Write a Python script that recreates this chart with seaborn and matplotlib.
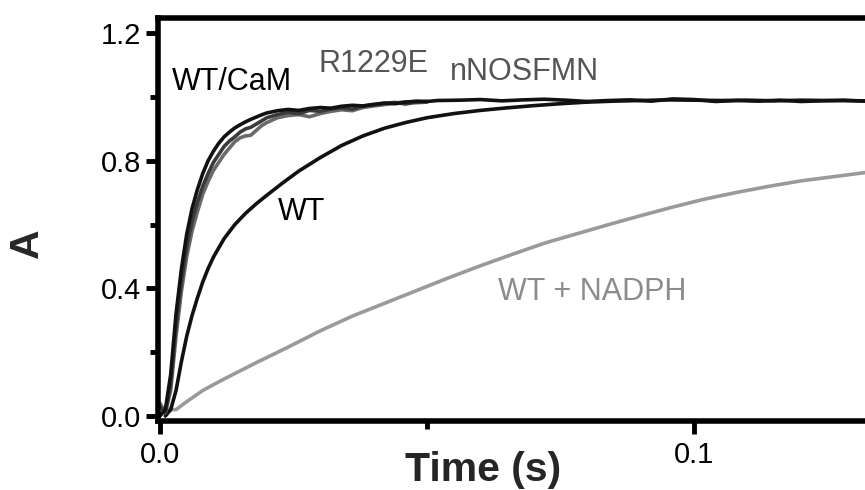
import pandas as pd
import numpy as np
import matplotlib
matplotlib.use("Agg")
import matplotlib.pyplot as plt
import seaborn as sns

# ---- data (time in s, absorbance change A) ----
t_rise = [0.000, 0.001, 0.002, 0.003, 0.004, 0.005, 0.006, 0.007, 0.008, 0.009,
          0.010, 0.011, 0.012, 0.013, 0.014, 0.015, 0.016, 0.017, 0.018, 0.019,
          0.020, 0.022, 0.024, 0.026, 0.028, 0.030, 0.032, 0.034, 0.036, 0.038,
          0.040, 0.042, 0.044, 0.046, 0.048, 0.050]
t_tail = [0.052, 0.056, 0.060, 0.064, 0.068, 0.072, 0.076, 0.080, 0.084, 0.088,
          0.092, 0.096, 0.100, 0.104, 0.108, 0.112, 0.116, 0.120, 0.124, 0.128, 0.132]

cam_rise = [0.00, 0.02, 0.13, 0.32, 0.46, 0.57, 0.65, 0.71, 0.76, 0.80,
            0.83, 0.855, 0.875, 0.89, 0.903, 0.913, 0.922, 0.93, 0.937, 0.944,
            0.95, 0.957, 0.961, 0.958, 0.964, 0.967, 0.965, 0.971, 0.974, 0.972,
            0.977, 0.981, 0.979, 0.984, 0.987, 0.986]
cam_tail = [0.989, 0.990, 0.992, 0.988, 0.991, 0.993, 0.990, 0.986, 0.989, 0.991,
            0.987, 0.994, 0.992, 0.986, 0.989, 0.987, 0.990, 0.986, 0.988, 0.990, 0.987]

r1229e = [0.03, 0.01, 0.10, 0.28, 0.42, 0.53, 0.61, 0.67, 0.72, 0.76,
          0.795, 0.82, 0.845, 0.862, 0.875, 0.89, 0.90, 0.905, 0.915, 0.925,
          0.935, 0.945, 0.952, 0.948, 0.958, 0.955, 0.962, 0.966, 0.962, 0.972,
          0.975, 0.980, 0.983, 0.978, 0.984, 0.986]

fmn = [0.04, 0.01, 0.08, 0.25, 0.39, 0.50, 0.58, 0.64, 0.695, 0.735,
       0.77, 0.795, 0.82, 0.84, 0.86, 0.872, 0.878, 0.88, 0.895, 0.91,
       0.92, 0.935, 0.942, 0.945, 0.938, 0.948, 0.955, 0.960, 0.957, 0.967,
       0.972, 0.976, 0.981, 0.985, 0.982, 0.984]

t_wt = [0.001, 0.002, 0.003, 0.004, 0.005, 0.006, 0.007, 0.008, 0.009, 0.010,
        0.012, 0.014, 0.016, 0.018, 0.020, 0.023, 0.026, 0.030, 0.034, 0.038,
        0.042, 0.046, 0.050, 0.055, 0.060, 0.065, 0.070, 0.075, 0.080, 0.085,
        0.090, 0.095, 0.100, 0.105, 0.110, 0.115, 0.120, 0.125, 0.132]
a_wt = [0.0, 0.02, 0.08, 0.17, 0.25, 0.315, 0.37, 0.42, 0.462, 0.498,
        0.556, 0.60, 0.635, 0.665, 0.692, 0.731, 0.768, 0.81, 0.848, 0.878,
        0.902, 0.92, 0.935, 0.948, 0.958, 0.966, 0.973, 0.979, 0.984, 0.987,
        0.989, 0.991, 0.990, 0.989, 0.990, 0.988, 0.990, 0.989, 0.988]

t_nadph = [0.0, 0.0015, 0.003, 0.005, 0.008, 0.012, 0.018, 0.024, 0.030, 0.036,
           0.042, 0.048, 0.054, 0.060, 0.066, 0.072, 0.078, 0.084, 0.090, 0.096,
           0.102, 0.108, 0.114, 0.120, 0.126, 0.132]
a_nadph = [0.01, 0.02, 0.02, 0.045, 0.08, 0.116, 0.167, 0.216, 0.267, 0.313,
           0.353, 0.393, 0.433, 0.471, 0.507, 0.542, 0.571, 0.60, 0.628, 0.655,
           0.68, 0.701, 0.72, 0.737, 0.75, 0.763]

x_major = [0.0, 0.1]
x_minor = [0.05]
y_major = [0.0, 0.4, 0.8, 1.2]
y_minor = [0.2, 0.6, 1.0]

# ---- style ----
sns.set_theme(style="ticks")
plt.rcParams["font.family"] = ["Liberation Sans", "DejaVu Sans"]

fig = plt.figure(figsize=(8.65, 4.9), dpi=100)
ax = fig.add_axes([158 / 865, 69.5 / 490, 707 / 865, 402.8 / 490])

traces = [
    (t_rise + t_tail, cam_rise + cam_tail, "#111111"),
    (t_rise, r1229e, "#3a3a3a"),
    (t_rise, fmn, "#6a6a6a"),
    (t_wt, a_wt, "#111111"),
    (t_nadph, a_nadph, "#9a9a9a"),
]
# draw light trace first so dark ones sit on top
for tt, aa, col in [traces[4], traces[3], traces[2], traces[1], traces[0]]:
    d = pd.DataFrame({"t": tt, "A": aa})
    sns.lineplot(data=d, x="t", y="A", ax=ax, color=col, lw=2.6,
                 sort=False, estimator=None)

ax.set_xlim(-0.000375, 0.1320)
ax.set_ylim(-0.0141, 1.2486)

ax.set_xticks(x_major)
ax.set_xticklabels(["0.0", "0.1"])
ax.set_xticks(x_minor, minor=True)
ax.set_yticks(y_major)
ax.set_yticklabels(["0.0", "0.4", "0.8", "1.2"])
ax.set_yticks(y_minor, minor=True)

for s in ["left", "bottom", "top"]:
    ax.spines[s].set_linewidth(4)
    ax.spines[s].set_color("black")
ax.spines["right"].set_visible(False)

ax.tick_params(which="major", length=9, width=3.5, color="black",
               labelsize=21, labelcolor="black")
ax.tick_params(axis="y", which="major", pad=3)
ax.tick_params(axis="x", which="major", pad=6)
ax.tick_params(which="minor", length=6, width=3.5, color="black")

ax.set_xlabel("")
ax.set_ylabel("")
fig.text(27 / 865, 1 - 243 / 490, "A", rotation=90, fontsize=29.5,
         fontweight="bold", ha="center", va="center")
fig.text(483 / 865, 1 - 451 / 490, "Time (s)", fontsize=29.5,
         fontweight="bold", ha="center", va="top")

# ---- curve labels ----
ax.text(0.00225, 1.047, "WT/CaM", fontsize=22, color="black", ha="left", va="center")
ax.text(0.0296, 1.103, "R1229E", fontsize=22, color="#555555", ha="left", va="center")
ax.text(0.0543, 1.078, "nNOSFMN", fontsize=22, color="#555555", ha="left", va="center")
ax.text(0.0221, 0.64, "WT", fontsize=22, color="black", ha="left", va="center")
ax.text(0.0633, 0.389, "WT + NADPH", fontsize=22, color="#8c8c8c", ha="left", va="center")

fig.savefig("out.png", dpi=100)
